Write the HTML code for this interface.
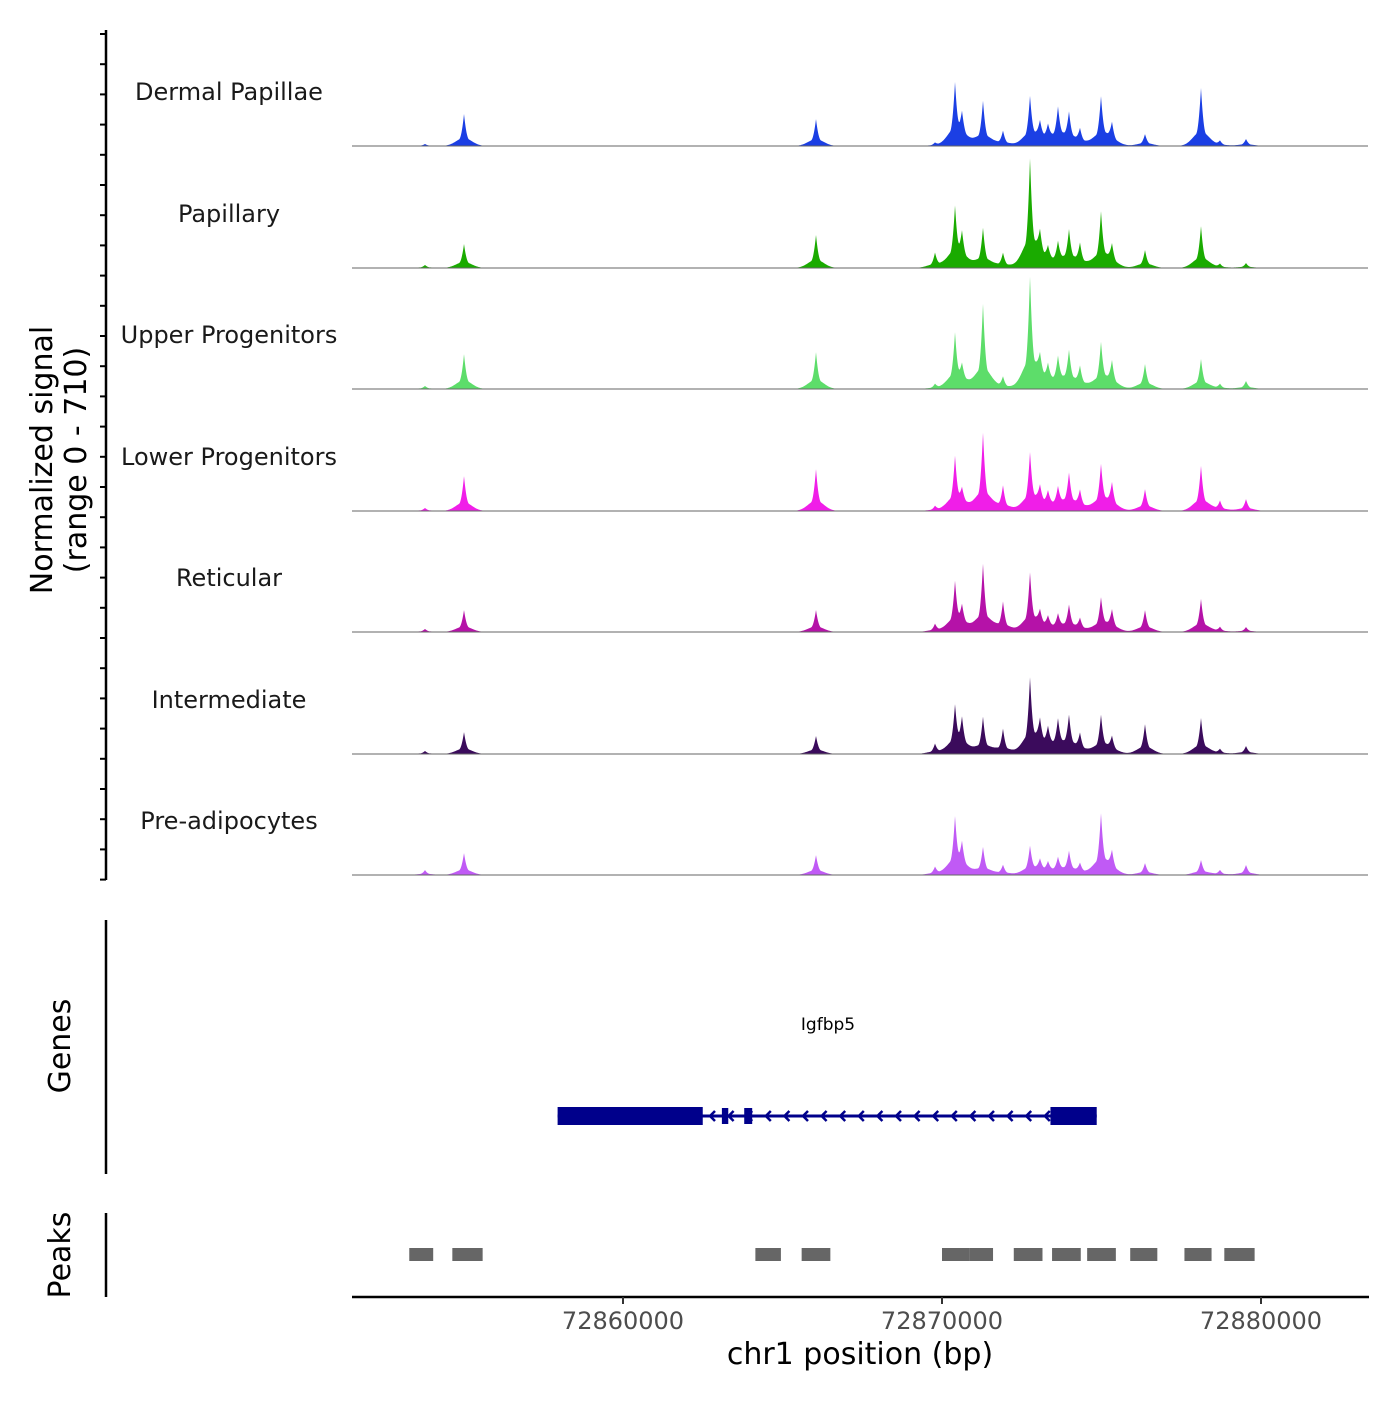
<!DOCTYPE html>
<html><head><meta charset="utf-8"><style>
body{margin:0;background:#fff;}
svg text{font-family:"DejaVu Sans","Liberation Sans",sans-serif;}
</style></head><body>
<svg id="chart" width="1400" height="1400" viewBox="0 0 1400 1400" xmlns="http://www.w3.org/2000/svg">
<g id="tracks"></g>
<g id="leftaxis"></g>
<text x="0" y="0" transform="translate(52,460) rotate(-90)" text-anchor="middle" font-size="30" fill="#000">Normalized signal</text>
<text x="0" y="0" transform="translate(86,460) rotate(-90)" text-anchor="middle" font-size="30" fill="#000">(range 0 - 710)</text>
<line x1="106" y1="920" x2="106" y2="1174" stroke="#000" stroke-width="2.5"/>
<text transform="translate(70,1046) rotate(-90)" text-anchor="middle" font-size="30">Genes</text>
<line x1="106" y1="1213" x2="106" y2="1297" stroke="#000" stroke-width="2.5"/>
<text transform="translate(70,1255) rotate(-90)" text-anchor="middle" font-size="30">Peaks</text>
<g id="gene"></g>
<text x="828" y="1030" text-anchor="middle" font-size="17">Igfbp5</text>
<g id="peaks"></g>
<g id="xaxis"></g>
<text x="860" y="1364" text-anchor="middle" font-size="30">chr1 position (bp)</text>
</svg>
<script>
const trackNames=["Dermal Papillae","Papillary","Upper Progenitors","Lower Progenitors","Reticular","Intermediate","Pre-adipocytes"];
const trackColors=["#1b3fe4","#1aab00","#5ddd6a","#f01ee8","#b512a8","#3b0b5c","#c05af5"];
const peakPos=[72853793,72855016,72866050,72869781,72870408,72870627,72871285,72871912,72872759,72873072,72873323,72873636,72873981,72874326,72874984,72875329,72876364,72878119,72878715,72879530];
const sigDP=[12,188,158,18,352,147,264,88,282,106,88,205,176,88,282,117,70,340,29,41];
const sigPap=[18,141,194,88,340,164,235,88,628,147,88,129,205,129,323,117,106,246,23,29];
const sigUp=[18,205,217,29,317,100,499,70,645,129,106,164,205,117,264,147,147,176,29,47];
const sigLow=[18,205,246,29,311,88,458,147,334,106,88,117,205,106,264,147,129,264,59,70];
const sigRet=[18,129,129,47,282,117,399,176,340,88,70,88,147,70,194,117,129,194,29,29];
const sigInt=[18,129,106,59,264,176,217,147,434,147,117,176,205,106,223,88,176,211,29,47];
const sigPre=[29,129,117,47,323,147,164,59,164,70,59,88,129,59,352,117,70,88,29,59];
const allSignals=[sigDP,sigPap,sigUp,sigLow,sigRet,sigInt,sigPre];
const baselines=[146,268,389,511,632,754,875];
const peakStarts=[72853300,72854650,72864150,72865600,72870000,72870850,72872250,72873450,72874550,72875900,72877600,72878850];
const peakEnds=[72854050,72855600,72864950,72866500,72870850,72871600,72873150,72874350,72875450,72876750,72878450,72879800];
const xTicks=[72860000,72870000,72880000];
const geneStart=72857950,geneEnd=72874850;
const exonStarts=[72857950,72863100,72863800,72873400];
const exonEnds=[72862500,72863300,72864050,72874850];
const X0=72860000,PX0=623,PPB=0.0319;
const sx=v=>PX0+(v-X0)*PPB;
const SY=121/710;
const NS="http://www.w3.org/2000/svg";
function mk(t,a,p){const e=document.createElementNS(NS,t);for(const k in a)e.setAttribute(k,a[k]);p.appendChild(e);return e;}
const tg=document.getElementById('tracks');
allSignals.forEach((sig,ti)=>{
  const b=baselines[ti];
  let d="M352,"+b;
  for(let x=352;x<=1368;x+=0.5){
    let y=0;
    peakPos.forEach((p,i)=>{const dx=Math.abs(x-sx(p));const h=sig[i];
      const t=Math.max(0,1-dx/5);y+=h*t*t*0.75+h*0.25*Math.exp(-(dx/11)*(dx/11));});
    d+=" L"+x+","+(b-y*SY).toFixed(2);
  }
  d+=" L1368,"+b+" Z";
  const a=mk('path',{d:d,fill:trackColors[ti]},tg);
  
  
  const l=mk('line',{x1:352,y1:b,x2:1368,y2:b,stroke:'#666','stroke-width':1},tg);
  
  
  const tx=mk('text',{x:229,y:b-46,'text-anchor':'middle','font-size':24,fill:'#1a1a1a'},tg);
  tx.textContent=trackNames[ti];
  
  
});
const la=document.getElementById('leftaxis');
mk('line',{x1:106,y1:30,x2:106,y2:880,stroke:'#000','stroke-width':2.5},la);
for(let i=0;i<=28;i++){const y=34+i*30.2;mk('line',{x1:100,y1:y,x2:106,y2:y,stroke:'#000','stroke-width':2},la);}
const g=document.getElementById('gene');
const gl=mk('line',{x1:sx(geneStart),y1:1116,x2:sx(geneEnd),y2:1116,stroke:'#00008b','stroke-width':3},g);


for(let x=710;x<1062;x+=18.6){mk('path',{d:`M${x+5},${1111} L${x},${1116} L${x+5},${1121}`,stroke:'#00008b','stroke-width':2.5,fill:'none'},g);}
exonStarts.forEach((s,i)=>{const x1=sx(s),x2=sx(exonEnds[i]);const h=(i==1||i==2)?16:18;
  const r=mk('rect',{x:x1,y:1116-h/2,width:x2-x1,height:h,fill:'#00008b'},g);
  
  });
const pk=document.getElementById('peaks');
peakStarts.forEach((s,i)=>{const r=mk('rect',{x:sx(s),y:1248,width:sx(peakEnds[i])-sx(s),height:13,fill:'#666'},pk);
  
  });
const xa=document.getElementById('xaxis');
mk('line',{x1:352,y1:1297,x2:1369,y2:1297,stroke:'#000','stroke-width':2.5},xa);
xTicks.forEach(t=>{const x=sx(t);mk('line',{x1:x,y1:1297,x2:x,y2:1304,stroke:'#333','stroke-width':2},xa);
  const tx=mk('text',{x:x,y:1329,'text-anchor':'middle','font-size':24,fill:'#4d4d4d'},xa);tx.textContent=t;
  
  });
</script>
</body></html>
